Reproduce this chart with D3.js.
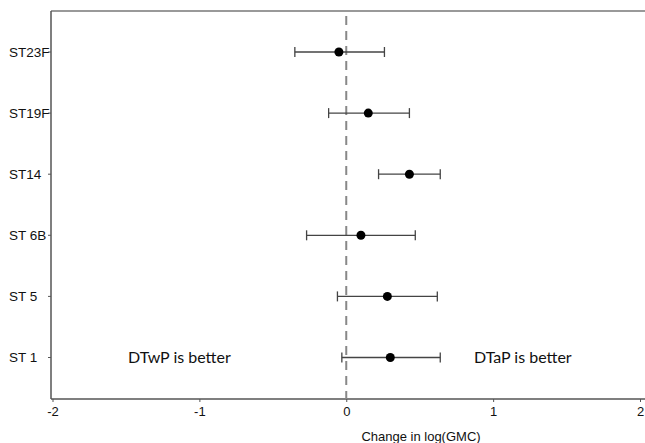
<!DOCTYPE html>
<html>
<head>
<meta charset="utf-8">
<style>
  body { margin: 0; background: #fff; overflow: hidden; }
  svg { display: block; }
</style>
<script src="https://d3js.org/d3.v7.min.js"></script>
</head>
<body>
<div id="chart"></div>
<script>
// serotypes, top to bottom
const serotypes = ["ST23F", "ST19F", "ST14", "ST 6B", "ST 5", "ST 1"];
const estimate  = [-0.05, 0.15, 0.43, 0.10, 0.28, 0.30];
const ciLow     = [-0.35, -0.12, 0.22, -0.27, -0.06, -0.03];
const ciHigh    = [0.26, 0.43, 0.64, 0.47, 0.62, 0.64];
const xTicks    = [-2, -1, 0, 1, 2];

const W = 645, H = 443;
const plotLeft = 51, plotTop = 11, plotBottom = 399;

const svg = d3.select("#chart").append("svg")
    .attr("width", W).attr("height", H);

const x = d3.scaleLinear().domain([-2, 2]).range([52.5, 640]);
const y = d3.scalePoint().domain(serotypes).range([52, 357.5]);

// frame: top line
svg.append("line")
    .attr("x1", plotLeft).attr("x2", W).attr("y1", plotTop).attr("y2", plotTop)
    .attr("stroke", "#777").attr("stroke-width", 1.5);

// x axis
const xAxis = svg.append("g")
    .attr("transform", "translate(0," + plotBottom + ")")
    .call(d3.axisBottom(x).tickValues(xTicks).tickSize(3).tickPadding(5).tickFormat(d => String(d)));
xAxis.select(".domain").remove();
xAxis.append("line")
    .attr("x1", plotLeft).attr("x2", W).attr("y1", 0).attr("y2", 0)
    .attr("stroke", "#555").attr("stroke-width", 1.5);
xAxis.selectAll(".tick line").attr("stroke", "#555");
xAxis.selectAll(".tick text")
    .attr("fill", "#111")
    .style("font-family", "Liberation Sans, Arial, sans-serif")
    .style("font-size", "13px");

// y axis (labels left aligned)
svg.append("line")
    .attr("x1", plotLeft).attr("x2", plotLeft).attr("y1", plotTop).attr("y2", plotBottom)
    .attr("stroke", "#555").attr("stroke-width", 1.5);
svg.selectAll(".ytick").data(serotypes).enter().append("line")
    .attr("x1", plotLeft - 3).attr("x2", plotLeft)
    .attr("y1", d => y(d)).attr("y2", d => y(d))
    .attr("stroke", "#555");
svg.selectAll(".ylab").data(serotypes).enter().append("text")
    .attr("x", 9).attr("y", d => y(d)).attr("dy", "0.35em")
    .attr("fill", "#111")
    .style("font-family", "Liberation Sans, Arial, sans-serif")
    .style("font-size", "13.5px")
    .text(d => d);

// reference line at 0
svg.append("line")
    .attr("x1", x(0)).attr("x2", x(0)).attr("y1", 16).attr("y2", plotBottom)
    .attr("stroke", "#888").attr("stroke-width", 2)
    .attr("stroke-dasharray", "9,6");

// error bars
const rows = serotypes.map((s, i) => ({ s, est: estimate[i], lo: ciLow[i], hi: ciHigh[i] }));
const g = svg.append("g");
rows.forEach(r => {
  const yy = y(r.s);
  g.append("line").attr("x1", x(r.lo)).attr("x2", x(r.hi)).attr("y1", yy).attr("y2", yy)
      .attr("stroke", "#444").attr("stroke-width", 1.3);
  [r.lo, r.hi].forEach(v => {
    g.append("line").attr("x1", x(v)).attr("x2", x(v)).attr("y1", yy - 5).attr("y2", yy + 5)
        .attr("stroke", "#444").attr("stroke-width", 1.3);
  });
  g.append("circle").attr("cx", x(r.est)).attr("cy", yy).attr("r", 4.5).attr("fill", "#000");
});

// annotations
svg.append("text").attr("x", 128).attr("y", 363)
    .style("font-family", "Lato, Open Sans, sans-serif").style("font-size", "16px")
    .attr("fill", "#111").text("DTwP is better");
svg.append("text").attr("x", 474).attr("y", 363)
    .style("font-family", "Lato, Open Sans, sans-serif").style("font-size", "16px")
    .attr("fill", "#111").text("DTaP is better");

// x axis title
svg.append("text").attr("x", 421).attr("y", 441)
    .attr("text-anchor", "middle")
    .style("font-family", "Liberation Sans, Arial, sans-serif").style("font-size", "13px")
    .attr("fill", "#111").text("Change in log(GMC)");
</script>
</body>
</html>
